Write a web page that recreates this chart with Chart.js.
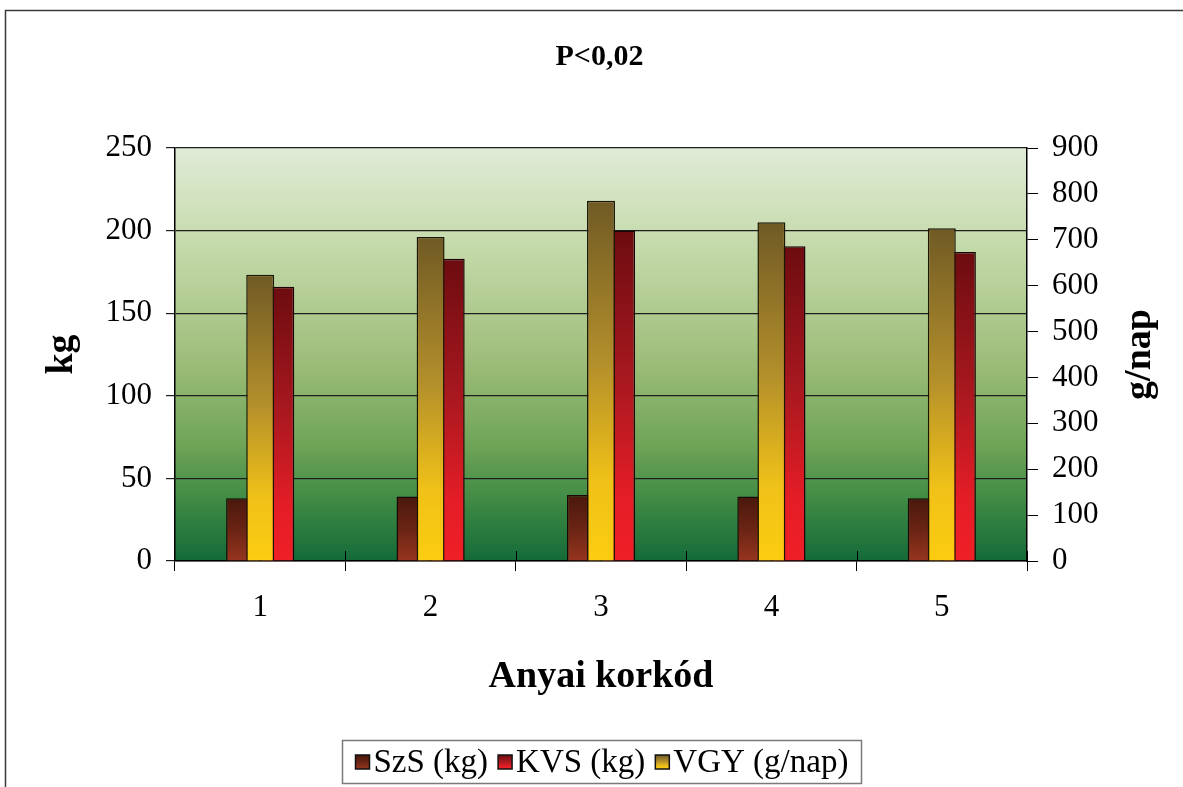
<!DOCTYPE html>
<html>
<head>
<meta charset="utf-8">
<title>Anyai korkód</title>
<script src="https://cdn.jsdelivr.net/npm/chart.js@4/dist/chart.umd.min.js"></script>
<style>
  html, body { margin: 0; padding: 0; background: #fff; }
  #wrap { width: 1183px; height: 787px; }
</style>
</head>
<body>
<div id="wrap"><canvas id="chart" width="1183" height="787"></canvas></div>
<script>
// ---- data ----
const categories = ['1', '2', '3', '4', '5'];
const szsValues = [38, 39, 40, 39, 38];          // SzS (kg)
const kvsValues = [166, 183, 200, 190.5, 187];   // KVS (kg)
const vgyValues = [624, 706, 785, 738, 725];     // VGY (g/nap)
const kgTicks = [0, 50, 100, 150, 200, 250];
const gnapTicks = [0, 100, 200, 300, 400, 500, 600, 700, 800, 900];
const seriesNames = ['SzS (kg)', 'KVS (kg)', 'VGY (g/nap)'];
const chartTitle = 'P<0,02';
const xTitle = 'Anyai korkód';
const yTitle = 'kg';
const y2Title = 'g/nap';

// ---- styling ----
const SERIF = '"Liberation Serif", "Times New Roman", serif';
const szsStops = [[0, '#4a180c'], [0.5, '#6a2414'], [1, '#96351f']];
const kvsStops = [[0, '#6c0c10'], [0.45, '#a8181f'], [0.8, '#e41d26'], [1, '#ef1f27']];
const vgyStops = [[0, '#705a25'], [0.45, '#b38f2b'], [0.78, '#f0c118'], [1, '#fccd10']];

function barGradient(stops) {
  return (ctx) => {
    const chart = ctx.chart;
    const fallback = stops[stops.length - 1][1];
    if (ctx.type !== 'data' || !chart.chartArea) return fallback;
    const ds = chart.data.datasets[ctx.datasetIndex];
    const scale = chart.scales[ds.yAxisID];
    if (!scale) return fallback;
    const top = scale.getPixelForValue(ctx.raw);
    const base = scale.getPixelForValue(0);
    if (!isFinite(top) || !isFinite(base) || top === base) return fallback;
    const g = chart.ctx.createLinearGradient(0, top, 0, base);
    stops.forEach(([o, c]) => g.addColorStop(o, c));
    return g;
  };
}

function setTicks(values) {
  return (scale) => { scale.ticks = values.map((v) => ({ value: v })); };
}

// Frame around the whole figure and the shaded plot area
const backdrop = {
  id: 'backdrop',
  beforeDraw(chart) {
    const { ctx, chartArea: a } = chart;
    ctx.save();
    ctx.fillStyle = '#fff';
    ctx.fillRect(0, 0, chart.width, chart.height);
    ctx.strokeStyle = '#3a3a3a';
    ctx.lineWidth = 1.5;
    ctx.strokeRect(5.5, 10.5, chart.width - 4, chart.height + 20);
    const g = ctx.createLinearGradient(0, a.top, 0, a.bottom);
    g.addColorStop(0, '#e0ebd6');
    g.addColorStop(0.25, '#c3d9a8');
    g.addColorStop(0.5, '#a0bf7c');
    g.addColorStop(0.72, '#6fa457');
    g.addColorStop(0.86, '#3d8944');
    g.addColorStop(1, '#146a38');
    ctx.fillStyle = g;
    ctx.fillRect(a.left, a.top, a.right - a.left, a.bottom - a.top);
    ctx.restore();
  }
};

// Category tick marks cross the axis line (inner half drawn here)
const crossTicks = {
  id: 'crossTicks',
  beforeDatasetsDraw(chart) {
    const { ctx } = chart;
    const x = chart.scales.x;
    ctx.save();
    ctx.strokeStyle = '#000';
    ctx.lineWidth = 1;
    for (let i = 1; i <= categories.length; i++) {
      const px = Math.round(x.getPixelForValue(i - 0.5)) + 0.5;
      ctx.beginPath();
      ctx.moveTo(px, x.top - 10);
      ctx.lineTo(px, x.top);
      ctx.stroke();
    }
    ctx.restore();
  }
};

// Right axis title reads bottom-to-top, like the left one
const rightTitle = {
  id: 'rightTitle',
  afterDraw(chart) {
    const { ctx, chartArea: a } = chart;
    ctx.save();
    ctx.translate(1140, (a.top + a.bottom) / 2);
    ctx.rotate(-Math.PI / 2);
    ctx.font = 'bold 38px ' + SERIF;
    ctx.fillStyle = '#000';
    ctx.textAlign = 'center';
    ctx.textBaseline = 'middle';
    ctx.fillText(y2Title, 0, 0);
    ctx.restore();
  }
};

// Boxed legend below the axis title
const boxLegend = {
  id: 'boxLegend',
  afterDraw(chart) {
    const { ctx, chartArea: a } = chart;
    const stopsFor = [szsStops, kvsStops, vgyStops];
    ctx.save();
    ctx.font = '33px ' + SERIF;
    const marker = 14, gapText = 4, gapItem = 10, padX = 13, boxH = 43;
    const items = chart.data.datasets.map((d, i) => ({ label: d.label, stops: stopsFor[i], w: ctx.measureText(d.label).width }));
    let content = 0;
    items.forEach((it, i) => { content += marker + gapText + it.w + (i ? gapItem : 0); });
    const boxW = Math.round(content + 2 * padX);
    const cx = (a.left + a.right) / 2;
    const left = Math.round(cx - boxW / 2) + 0.5;
    const top = chart.height - 47 + 0.5;
    ctx.fillStyle = '#fff';
    ctx.fillRect(left, top, boxW, boxH);
    ctx.strokeStyle = '#7a7a7a';
    ctx.lineWidth = 1.5;
    ctx.strokeRect(left, top, boxW, boxH);
    const midY = top + boxH / 2;
    let x = left + padX;
    items.forEach((it, i) => {
      if (i) x += gapItem;
      const my = Math.round(midY - marker / 2);
      const g = ctx.createLinearGradient(0, my, 0, my + marker);
      it.stops.forEach(([o, c]) => g.addColorStop(o, c));
      ctx.fillStyle = g;
      ctx.fillRect(x, my, marker, marker);
      ctx.strokeStyle = '#111';
      ctx.lineWidth = 1.5;
      ctx.strokeRect(x, my, marker, marker);
      x += marker + gapText;
      ctx.fillStyle = '#000';
      ctx.textAlign = 'left';
      ctx.textBaseline = 'middle';
      ctx.fillText(it.label, x, midY + 1);
      x += it.w;
    });
    ctx.restore();
  }
};

const tickFont = { family: SERIF, size: 31 };
const titleFont = { family: SERIF, size: 38, weight: 'bold' };

new Chart(document.getElementById('chart'), {
  type: 'bar',
  data: {
    labels: categories,
    datasets: [
      {
        label: seriesNames[0], data: szsValues, yAxisID: 'y', order: 1,
        backgroundColor: barGradient(szsStops), borderColor: '#1a0804', borderWidth: 1.5,
        categoryPercentage: 0.4, barPercentage: 1
      },
      {
        label: seriesNames[1], data: kvsValues, yAxisID: 'y', order: 1,
        backgroundColor: barGradient(kvsStops), borderColor: '#1a0404', borderWidth: 1.5,
        categoryPercentage: 0.4, barPercentage: 1
      },
      {
        // drawn centred over the pair, on the right-hand scale
        label: seriesNames[2], data: vgyValues, yAxisID: 'y2', order: 0, grouped: false,
        backgroundColor: barGradient(vgyStops), borderColor: '#1c1604', borderWidth: 1.5,
        categoryPercentage: 0.164, barPercentage: 1
      }
    ]
  },
  options: {
    responsive: false,
    animation: false,
    devicePixelRatio: 1,
    layout: { padding: { left: 16, right: 0, top: 0, bottom: 0 } },
    plugins: {
      legend: { display: false },
      tooltip: { enabled: false },
      title: {
        display: true, text: chartTitle, color: '#000',
        font: { family: SERIF, size: 30, weight: 'bold' },
        padding: { top: 39, bottom: 73 }
      }
    },
    scales: {
      x: {
        type: 'category', position: 'bottom', offset: true,
        grid: { offset: true, drawOnChartArea: false, drawTicks: true, tickLength: 10, color: '#000', lineWidth: 1 },
        border: { display: true, color: '#000', width: 1.5 },
        ticks: { color: '#000', font: tickFont, padding: 18, maxRotation: 0 },
        title: { display: true, text: xTitle, color: '#000', font: titleFont, padding: { top: 0, bottom: 87 } },
        afterFit: (s) => { s.height = 226; }
      },
      y: {
        type: 'linear', position: 'left', min: 0, max: 250,
        afterBuildTicks: setTicks(kgTicks),
        grid: { color: '#1e1e1e', lineWidth: 1.2, drawTicks: true, tickLength: 9 },
        border: { display: true, color: '#000', width: 1.5 },
        ticks: { color: '#000', font: tickFont, padding: 14 },
        title: { display: true, text: yTitle, color: '#000', font: titleFont, padding: { top: 23, bottom: 0 } },
        afterFit: (s) => { s.width = 159; }
      },
      y2: {
        type: 'linear', position: 'right', min: 0, max: 900,
        afterBuildTicks: setTicks(gnapTicks),
        grid: { drawOnChartArea: false, drawTicks: true, tickLength: 11, color: '#000', lineWidth: 1 },
        border: { display: true, color: '#000', width: 1.5 },
        ticks: { color: '#000', font: tickFont, padding: 14 },
        afterFit: (s) => { s.width = 156; }
      }
    }
  },
  plugins: [backdrop, crossTicks, rightTitle, boxLegend]
});
</script>
</body>
</html>
